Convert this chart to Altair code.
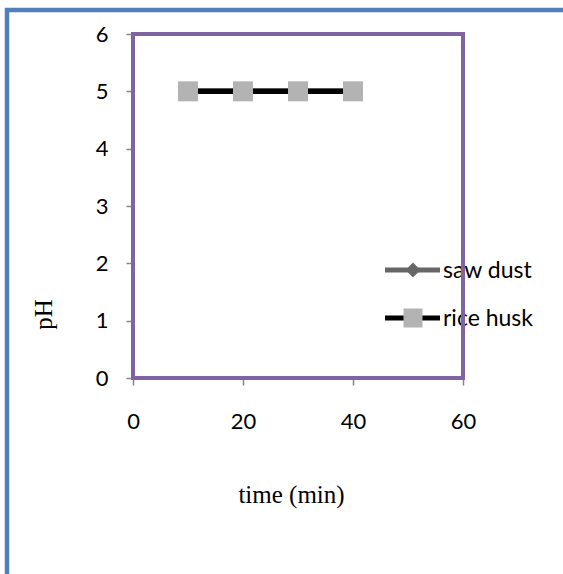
import altair as alt
import pandas as pd

# pH readings over contact time for the two adsorbents
time_min = [10, 20, 30, 40]
saw_dust_ph = [5, 5, 5, 5]
rice_husk_ph = [5, 5, 5, 5]
series_names = ["saw dust", "rice husk"]
x_ticks = [0, 20, 40, 60]
y_ticks = [0, 1, 2, 3, 4, 5, 6]

W, H = 330, 344
LEFT, TOP = 133, 34

LABEL_FONT = "Lato"
TITLE_FONT = "Liberation Serif"
AXIS_GRAY = "#868686"
FRAME_PURPLE = "#8064A2"
OUTER_BLUE = "#4F81BD"
SAW_COLOR = "#666666"
RICE_LINE = "#000000"
RICE_MARK = "#B3B3B3"

df = pd.DataFrame({
    "time": time_min + time_min,
    "pH": saw_dust_ph + rice_husk_ph,
    "series": [series_names[0]] * len(time_min) + [series_names[1]] * len(time_min),
})

x_enc = alt.X(
    "time:Q",
    scale=alt.Scale(domain=[0, 60], nice=False, zero=False),
    axis=alt.Axis(
        values=x_ticks, title="time (min)", grid=False, labelFlush=False,
        labelFont=LABEL_FONT, labelFontSize=22, labelColor="black", labelPadding=26,
        tickColor=AXIS_GRAY, tickSize=7, tickWidth=1.5,
        domainColor=AXIS_GRAY, domainWidth=1.5,
        titleFont=TITLE_FONT, titleFontSize=25, titleFontWeight="normal", titleColor="black",
        titleX=158, titleY=116, titleAlign="center", titleBaseline="middle",
    ),
)
y_enc = alt.Y(
    "pH:Q",
    scale=alt.Scale(domain=[0, 6], nice=False),
    axis=alt.Axis(
        values=y_ticks, title="pH", grid=False, labelFlush=False,
        labelFont=LABEL_FONT, labelFontSize=22, labelColor="black", labelPadding=18,
        tickColor=AXIS_GRAY, tickSize=7, tickWidth=1.5,
        domainColor=AXIS_GRAY, domainWidth=1.5,
        titleFont=TITLE_FONT, titleFontSize=25, titleFontWeight="normal", titleColor="black",
        titleX=-90, titleY=280, titleAlign="center", titleBaseline="middle", titleAngle=270,
    ),
)

base = alt.Chart(df).encode(x=x_enc, y=y_enc)
saw = base.transform_filter(alt.datum.series == series_names[0])
rice = base.transform_filter(alt.datum.series == series_names[1])

saw_line = saw.mark_line(color=SAW_COLOR, strokeWidth=5.5)
saw_pts = saw.mark_point(shape="diamond", filled=True, color=SAW_COLOR, size=220, opacity=1)
rice_line = rice.mark_line(color=RICE_LINE, strokeWidth=5.5)
rice_pts = rice.mark_point(shape="square", filled=True, color=RICE_MARK, size=400, opacity=1)

# hand-built legend rows: line + marker + label
legend_rows = [
    (series_names[0], SAW_COLOR, "diamond", SAW_COLOR, 220, 236),
    (series_names[1], RICE_LINE, "square", RICE_MARK, 361, 284),
]
legend_layers = []
for name, line_col, shape, mark_col, msize, ly in legend_rows:
    ldf = pd.DataFrame({"series": [name]})
    lc = alt.Chart(ldf)
    legend_layers.append(
        lc.mark_rule(color=line_col, strokeWidth=5).encode(
            x=alt.value(252), x2=alt.value(307), y=alt.value(ly))
    )
    legend_layers.append(
        lc.mark_point(shape=shape, filled=True, color=mark_col, size=msize, opacity=1).encode(
            x=alt.value(280), y=alt.value(ly))
    )
    legend_layers.append(
        lc.mark_text(align="left", baseline="middle", font=LABEL_FONT, fontSize=23, color="black").encode(
            x=alt.value(310), y=alt.value(ly + 1), text="series:N")
    )

frame_df = pd.DataFrame({"k": [0]})
plot_frame = alt.Chart(frame_df).mark_rect(
    fillOpacity=0, stroke=FRAME_PURPLE, strokeWidth=4
).encode(x=alt.value(0), x2=alt.value(W), y=alt.value(0), y2=alt.value(H))

outer_frame = alt.Chart(frame_df).mark_rect(
    fillOpacity=0, stroke=OUTER_BLUE, strokeWidth=4.5
).encode(x=alt.value(7 - LEFT), x2=alt.value(700), y=alt.value(10 - TOP), y2=alt.value(800))

chart = alt.layer(
    outer_frame, saw_line, saw_pts, rice_line, rice_pts, *legend_layers, plot_frame
).properties(
    width=W, height=H,
    autosize="none",
    padding={"left": LEFT, "top": TOP, "right": 563 - LEFT - W, "bottom": 574 - TOP - H},
    background="white",
).configure_view(stroke=None)

chart.save("out.html", embed_options={"renderer": "svg", "actions": False})
